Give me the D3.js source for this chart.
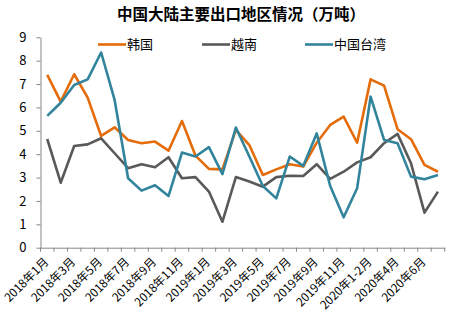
<!DOCTYPE html>
<html><head><meta charset="utf-8">
<script src="https://cdn.jsdelivr.net/npm/d3@7/dist/d3.min.js"></script>
<style>body{margin:0;background:#fff}svg{display:block}</style>
</head><body>
<svg id="c" width="449" height="321"></svg>
<script>
const categories = ["2018年1月","2018年2月","2018年3月","2018年4月","2018年5月","2018年6月","2018年7月","2018年8月","2018年9月","2018年10月","2018年11月","2018年12月",
"2019年1月","2019年2月","2019年3月","2019年4月","2019年5月","2019年6月","2019年7月","2019年8月","2019年9月","2019年10月","2019年11月","2019年12月",
"2020年1-2月","2020年3月","2020年4月","2020年5月","2020年6月","2020年7月"];
const korea   = [7.39,6.25,7.42,6.42,4.78,5.15,4.61,4.47,4.54,4.15,5.42,3.94,3.37,3.35,5.04,4.39,3.11,3.35,3.57,3.47,4.49,5.25,5.61,4.49,7.2,6.93,5.07,4.64,3.54,3.25];
const vietnam = [4.65,2.78,4.35,4.42,4.68,4.04,3.4,3.57,3.44,3.87,2.97,3.02,2.4,1.11,3.02,2.83,2.61,3.02,3.08,3.07,3.57,2.94,3.25,3.65,3.87,4.47,4.87,3.61,1.5,2.4];
const taiwan  = [5.64,6.2,6.96,7.2,8.35,6.32,2.97,2.44,2.67,2.21,4.07,3.9,4.3,3.15,5.14,3.9,2.64,2.11,3.9,3.5,4.89,2.64,1.3,2.54,6.46,4.61,4.47,3.04,2.93,3.11];
const seriesNames = ["韩国","越南","中国台湾"];
const yTicks = [0,1,2,3,4,5,6,7,8,9];
const title = "中国大陆主要出口地区情况（万吨）";

(function(){
const colors = ["#E46C0A","#595959","#31849B"];
const series = [korea, vietnam, taiwan];
const svg = d3.select("#c");
const font = "'Microsoft YaHei','Noto Sans CJK SC',sans-serif";
const mLeft = 40.5, mRight = 444.7, mTop = 37.3, mBottom = 247.7;

const x = d3.scaleBand().domain(categories).range([mLeft, mRight]);
const y = d3.scaleLinear().domain([0,9]).range([mBottom, mTop]);

svg.append("text").attr("x", 241).attr("y", 20).attr("text-anchor","middle")
  .attr("font-family", font).attr("font-weight","bold").attr("font-size", 15.5).attr("fill","#000").text(title);

const ya = svg.append("g").attr("transform", `translate(${mLeft},0)`)
  .call(d3.axisLeft(y).tickValues(yTicks).tickSize(4).tickSizeOuter(0).tickPadding(10));
ya.select(".domain").attr("stroke","#868686");
ya.selectAll(".tick line").attr("stroke","#868686");
ya.selectAll(".tick text").attr("font-family", font).attr("font-size", 13).attr("fill","#000");

const xa = svg.append("g").attr("transform", `translate(0,${mBottom})`)
  .call(d3.axisBottom(x).tickValues([]).tickSizeOuter(0));
xa.select(".domain").attr("stroke","#868686");
const bounds = categories.map(c => x(c)).concat([mRight]);
xa.selectAll(".bt").data(bounds).enter().append("line").attr("class","bt")
  .attr("x1", d => d).attr("x2", d => d).attr("y1", 0).attr("y2", 4).attr("stroke","#868686");
const shown = categories.filter((c,i) => i % 2 === 0);
xa.selectAll(".lbl").data(shown).enter().append("text")
  .attr("transform", d => `translate(${x(d) + x.bandwidth()/2 + 2},${15}) rotate(-45)`)
  .attr("text-anchor","end").attr("font-family", font).attr("font-size", 11.8).attr("fill","#000")
  .text(d => d);

const line = d3.line().x((d,i) => x(categories[i]) + x.bandwidth()/2).y(d => y(d));
series.forEach((s, k) => {
  svg.append("path").datum(s).attr("d", line).attr("fill","none")
    .attr("stroke", colors[k]).attr("stroke-width", 2.6).attr("stroke-linejoin","round");
});

const legX = [98, 202, 305];
seriesNames.forEach((n, k) => {
  svg.append("line").attr("x1", legX[k]).attr("x2", legX[k] + 28).attr("y1", 44.5).attr("y2", 44.5)
    .attr("stroke", colors[k]).attr("stroke-width", 2.6);
  svg.append("text").attr("x", legX[k] + 29).attr("y", 49).attr("font-family", font)
    .attr("font-size", 13).attr("fill","#000").text(n);
});
})();
</script>
</body></html>
